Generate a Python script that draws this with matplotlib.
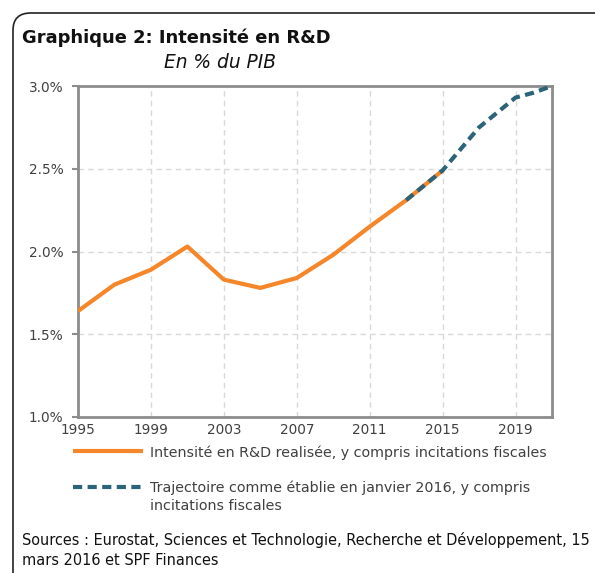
import matplotlib
matplotlib.use("Agg")
import matplotlib.pyplot as plt
from matplotlib.patches import FancyBboxPatch
from matplotlib.ticker import FuncFormatter

# Realised R&D intensity (% of GDP)
years_real = [1995, 1997, 1999, 2001, 2003, 2005, 2007, 2009, 2011, 2013, 2015]
rd_real = [1.64, 1.80, 1.89, 2.03, 1.83, 1.78, 1.84, 1.98, 2.15, 2.31, 2.49]

# Trajectory set in January 2016
years_traj = [2013, 2015, 2016, 2017, 2018, 2019, 2020, 2021]
rd_traj = [2.31, 2.49, 2.62, 2.75, 2.84, 2.93, 2.96, 3.00]

xticks = [1995, 1999, 2003, 2007, 2011, 2015, 2019]
yticks = [1.0, 1.5, 2.0, 2.5, 3.0]

label_real = "Intensité en R&D realisée, y compris incitations fiscales"
label_traj = "Trajectoire comme établie en janvier 2016, y compris"
label_traj_2 = "incitations fiscales"

orange = "#F5862A"
teal = "#2B6478"
axis_grey = "#8C8C8C"

plt.rcParams['font.family'] = ['DejaVu Sans']

fig = plt.figure(figsize=(5.95, 5.73), dpi=100)
W, H = 595, 573

# rounded frame round the whole chart
box = FancyBboxPatch((13 / W, -0.2), 1.2, 1 - 13 / H + 0.2,
                     boxstyle="round,pad=0,rounding_size=0.03",
                     transform=fig.transFigure, fill=False,
                     edgecolor="#222222", linewidth=1.2)
fig.patches.append(box)

ax = fig.add_axes([78 / W, 1 - 417 / H, (552 - 78) / W, (417 - 86) / H])

ax.plot(years_real, rd_real, color=orange, linewidth=3, label=label_real,
        solid_capstyle='butt', zorder=3)
ax.plot(years_traj, rd_traj, color=teal, linewidth=3, linestyle=(0, (2.2, 1.3)),
        label=label_traj, zorder=4)

ax.set_xlim(1995, 2021)
ax.set_ylim(1.0, 3.0)
ax.set_xticks(xticks)
ax.set_yticks(yticks)
ax.yaxis.set_major_formatter(FuncFormatter(lambda v, p: "%.1f%%" % v))
ax.grid(True, color="#D9D9D9", linestyle=(0, (4, 3)), linewidth=1)
ax.set_axisbelow(True)
for s in ax.spines.values():
    s.set_color(axis_grey)
    s.set_linewidth(2)
ax.tick_params(axis='both', colors=axis_grey, labelcolor="#404040",
               labelsize=9.8, width=1.5)
ax.tick_params(axis='x', length=0, pad=4)
ax.tick_params(axis='y', length=4, pad=6.5)

fig.text(22 / W, 1 - 38 / H, "Graphique 2: Intensité en R&D", fontsize=12.9,
         fontweight='bold', va='center', ha='left', color="#111111")
fig.text(220 / W, 1 - 62 / H, "En % du PIB", fontsize=13.4, style='italic',
         va='center', ha='center', color="#111111")

leg = ax.legend(loc='upper left', bbox_to_anchor=(73 / W, 1 - 445 / H),
                bbox_transform=fig.transFigure, frameon=False, fontsize=10.3,
                handlelength=4.9, handletextpad=0.5, labelspacing=1.45,
                borderaxespad=0, borderpad=0)
for t in leg.get_texts():
    t.set_color("#404040")

# second line of the trajectory label sits under the first one
fig.text(150 / W, 1 - 506 / H, label_traj_2, fontsize=10.3, va='center',
         ha='left', color="#404040")

fig.text(22 / W, 1 - 550 / H,
         "Sources : Eurostat, Sciences et Technologie, Recherche et Développement, 15\n"
         "mars 2016 et SPF Finances",
         fontsize=10.45, va='center', ha='left', color="#111111", linespacing=1.45)

fig.savefig("out.png", dpi=100)
